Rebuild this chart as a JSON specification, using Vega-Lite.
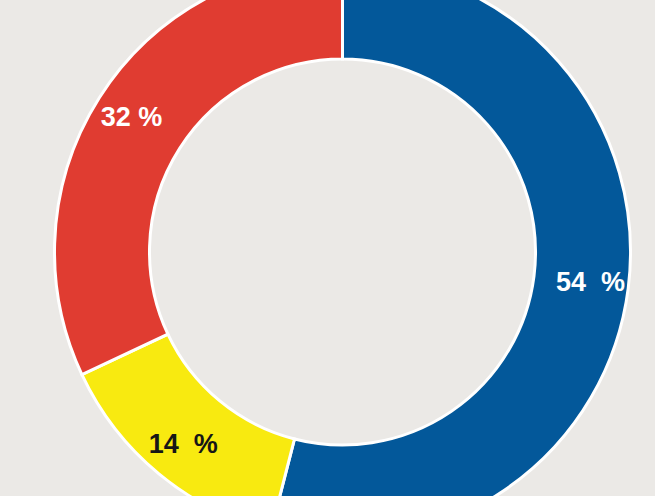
{
  "$schema": "https://vega.github.io/schema/vega-lite/v6.json",
  "autosize": "none",
  "width": 655,
  "height": 496,
  "padding": {"left": 15, "top": 4, "right": 0, "bottom": 0},
  "background": "#ebe9e6",
  "view": {"stroke": null},
  "data": {"values": [
    {"segment": "A", "share": 54, "label": "54\u00a0\u00a0%", "order": 1},
    {"segment": "B", "share": 14, "label": "14\u00a0\u00a0%", "order": 2},
    {"segment": "C", "share": 32, "label": "32 %", "order": 3}
  ]},
  "encoding": {
    "theta": {"field": "share", "type": "quantitative", "stack": true},
    "order": {"field": "order", "type": "quantitative"}
  },
  "layer": [
    {
      "mark": {"type": "arc", "radius": 288, "radius2": 193, "stroke": "#ffffff", "strokeWidth": 3},
      "encoding": {
        "color": {
          "field": "segment",
          "type": "nominal",
          "scale": {"domain": ["A", "B", "C"], "range": ["#03589a", "#f8ea10", "#e03c31"]},
          "legend": null
        }
      }
    },
    {
      "mark": {"type": "text", "radius": 250, "font": "Liberation Sans", "fontWeight": "bold", "fontSize": 27},
      "encoding": {
        "text": {"field": "label", "type": "nominal"},
        "color": {"condition": {"test": "datum.segment === 'B'", "value": "#161616"}, "value": "#ffffff"}
      }
    }
  ]
}
